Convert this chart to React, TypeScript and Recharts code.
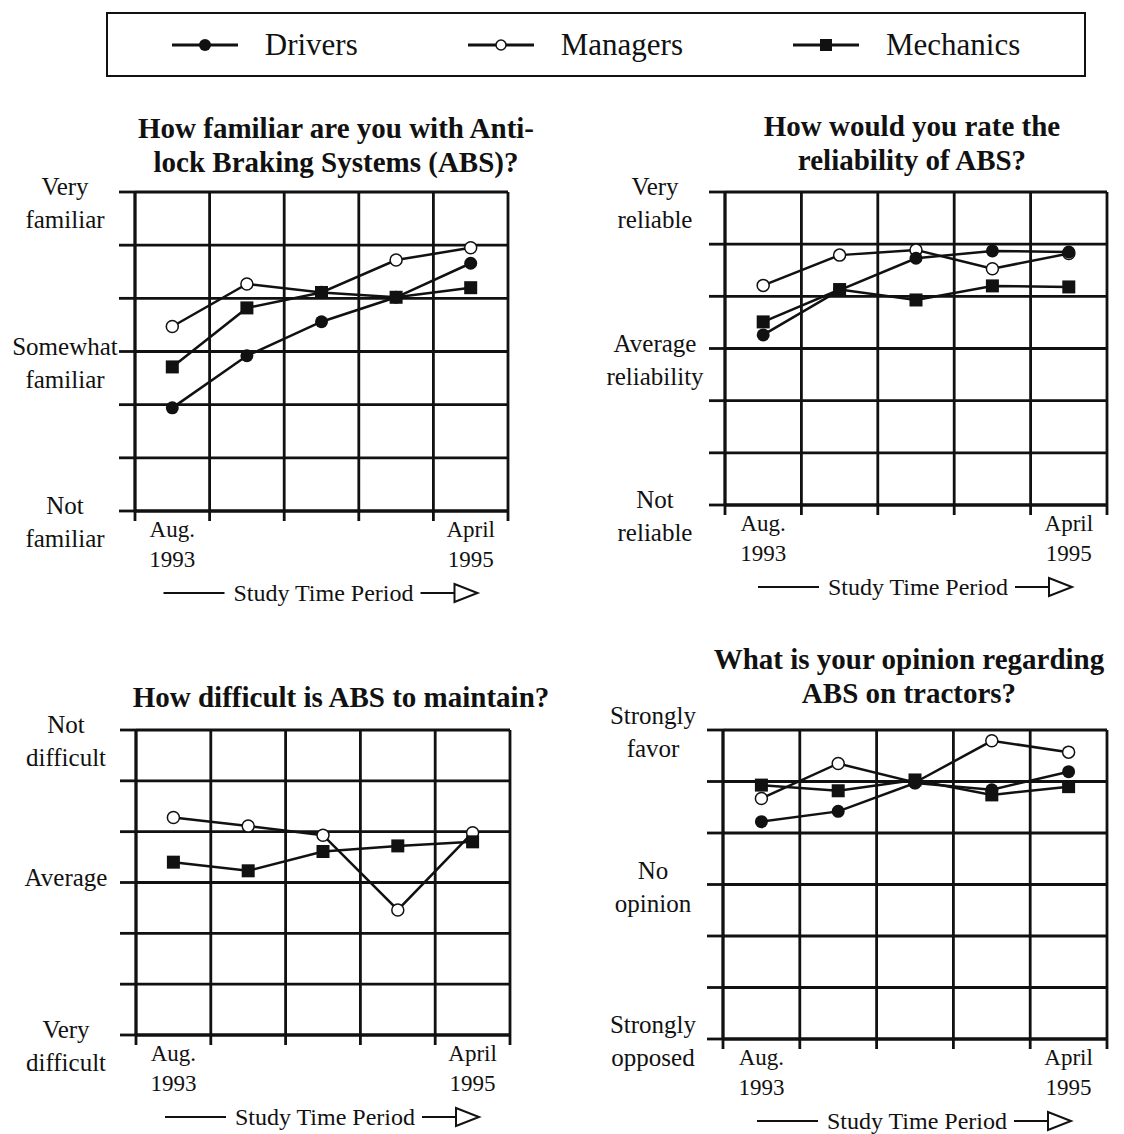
import { CartesianGrid, Line, LineChart, XAxis, YAxis } from 'recharts'

const FONT = '"Liberation Serif", "Times New Roman", serif'
const INK = '#111'

// survey rounds, Aug. 1993 .. April 1995
const PERIODS = ['Aug. 1993', 'Round 2', 'Round 3', 'Round 4', 'April 1995']
const PERIOD_LABELS = [
  ['Aug.', '1993'],
  ['April', '1995'],
]
const SERIES_NAMES = ['Drivers', 'Managers', 'Mechanics']

// scale: 0 = bottom answer, 3 = middle answer, 6 = top answer
const GRID_X = [0, 1, 2, 3, 4, 5]
const GRID_Y = [0, 1, 2, 3, 4, 5, 6]
const LABEL_TICKS = [0, 3, 6]

const FAMILIAR_TITLE = ['How familiar are you with Anti-', 'lock Braking Systems (ABS)?']
const FAMILIAR_LABELS = [['Not', 'familiar'], ['Somewhat', 'familiar'], ['Very', 'familiar']]
const FAMILIAR_DRIVERS = [1.94, 2.92, 3.56, 4.02, 4.66]
const FAMILIAR_MANAGERS = [3.47, 4.27, 4.11, 4.72, 4.95]
const FAMILIAR_MECHANICS = [2.71, 3.82, 4.11, 4.02, 4.2]

const RELIABILITY_TITLE = ['How would you rate the', 'reliability of ABS?']
const RELIABILITY_LABELS = [['Not', 'reliable'], ['Average', 'reliability'], ['Very', 'reliable']]
const RELIABILITY_DRIVERS = [3.26, 4.12, 4.73, 4.87, 4.85]
const RELIABILITY_MANAGERS = [4.21, 4.79, 4.89, 4.53, 4.82]
const RELIABILITY_MECHANICS = [3.51, 4.13, 3.93, 4.2, 4.18]

const MAINTAIN_TITLE = ['How difficult is ABS to maintain?']
const MAINTAIN_LABELS = [['Very', 'difficult'], ['Average'], ['Not', 'difficult']]
const MAINTAIN_MANAGERS = [4.28, 4.11, 3.93, 2.46, 3.98]
const MAINTAIN_MECHANICS = [3.4, 3.23, 3.61, 3.72, 3.8]

const OPINION_TITLE = ['What is your opinion regarding', 'ABS on tractors?']
const OPINION_LABELS = [['Strongly', 'opposed'], ['No', 'opinion'], ['Strongly', 'favor']]
const OPINION_DRIVERS = [4.22, 4.42, 4.97, 4.84, 5.19]
const OPINION_MANAGERS = [4.67, 5.35, 4.98, 5.79, 5.57]
const OPINION_MECHANICS = [4.93, 4.82, 5.03, 4.74, 4.9]

type TRow = { period: string; x: number; drivers?: number; managers: number; mechanics: number }

function buildRows(drivers: number[] | null, managers: number[], mechanics: number[]): TRow[] {
  return PERIODS.map((period, i) => ({
    period,
    x: i + 0.5,
    drivers: drivers ? drivers[i] : undefined,
    managers: managers[i],
    mechanics: mechanics[i],
  }))
}

const Y_AXIS_W = 130
const TOP_PAD = 40
const RIGHT_PAD = 10
const TICK_AXIS_H = 10
const PERIOD_AXIS_H = 62

type TPlot = { left: number; top: number; width: number; height: number }

function SquareDot(props: any) {
  const { cx, cy, index } = props
  if (cx == null || cy == null) return <g key={index} />
  return <rect key={index} x={cx - 6.5} y={cy - 6.5} width={13} height={13} fill={INK} />
}

function EmptyTick() {
  return <g />
}

function PeriodTick(props: any) {
  const { x, y, index } = props
  const lines = PERIOD_LABELS[index] ?? []
  return (
    <text x={x} textAnchor="middle" fontFamily={FONT} fontSize={23} fill={INK}>
      {lines.map((line, i) => (
        <tspan key={i} x={x} y={y + 16 + i * 30}>
          {line}
        </tspan>
      ))}
    </text>
  )
}

function AnswerTick(props: any) {
  const { x, y, payload, labels, shift } = props
  const idx = LABEL_TICKS.indexOf(payload.value)
  if (idx < 0) return <g />
  const lines: string[] = labels[idx]
  const cx = x - 52
  return (
    <text x={cx} textAnchor="middle" fontFamily={FONT} fontSize={25} fill={INK}>
      {lines.map((line, i) => (
        <tspan key={i} x={cx} y={y + shift + i * 33}>
          {line}
        </tspan>
      ))}
    </text>
  )
}

function Panel({
  plot,
  rows,
  labels,
  shift,
  showDrivers,
}: {
  plot: TPlot
  rows: TRow[]
  labels: string[][]
  shift: number
  showDrivers: boolean
}) {
  return (
    <div style={{ position: 'absolute', left: plot.left - Y_AXIS_W, top: plot.top - TOP_PAD }}>
      <LineChart
        width={Y_AXIS_W + plot.width + RIGHT_PAD}
        height={TOP_PAD + plot.height + TICK_AXIS_H + PERIOD_AXIS_H}
        data={rows}
        margin={{ top: TOP_PAD, right: RIGHT_PAD, bottom: 0, left: 0 }}
      >
        <CartesianGrid stroke={INK} strokeWidth={2.8} />
        <XAxis
          dataKey="x"
          type="number"
          domain={[0, 5]}
          ticks={GRID_X}
          interval={0}
          height={TICK_AXIS_H}
          tickSize={10}
          tick={EmptyTick}
          axisLine={{ stroke: INK, strokeWidth: 2.8 }}
          tickLine={{ stroke: INK, strokeWidth: 2.8 }}
        />
        <XAxis
          xAxisId="period"
          dataKey="x"
          type="number"
          domain={[0, 5]}
          ticks={[0.5, 4.5]}
          interval={0}
          height={PERIOD_AXIS_H}
          tickSize={0}
          tickMargin={0}
          axisLine={false}
          tickLine={false}
          tick={<PeriodTick />}
        />
        <YAxis
          type="number"
          domain={[0, 6]}
          ticks={GRID_Y}
          interval={0}
          width={Y_AXIS_W}
          tickSize={16}
          tick={<AnswerTick labels={labels} shift={shift} />}
          axisLine={{ stroke: INK, strokeWidth: 2.8 }}
          tickLine={{ stroke: INK, strokeWidth: 2.8 }}
        />
        <Line
          dataKey="managers"
          name={SERIES_NAMES[1]}
          stroke={INK}
          strokeWidth={2.5}
          dot={{ r: 6, fill: '#fff', stroke: INK, strokeWidth: 1.5 }}
          isAnimationActive={false}
        />
        {showDrivers && (
          <Line
            dataKey="drivers"
            name={SERIES_NAMES[0]}
            stroke={INK}
            strokeWidth={2.5}
            dot={{ r: 6.5, fill: INK, stroke: INK, strokeWidth: 0 }}
            isAnimationActive={false}
          />
        )}
        <Line
          dataKey="mechanics"
          name={SERIES_NAMES[2]}
          stroke={INK}
          strokeWidth={2.5}
          dot={SquareDot}
          isAnimationActive={false}
        />
      </LineChart>
    </div>
  )
}

function Title({ lines, cx, top }: { lines: string[]; cx: number; top: number }) {
  return (
    <div
      style={{
        position: 'absolute',
        left: cx - 300,
        top,
        width: 600,
        textAlign: 'center',
        fontFamily: FONT,
        fontWeight: 'bold',
        fontSize: 29,
        lineHeight: '34px',
        color: INK,
      }}
    >
      {lines.map((line) => (
        <div key={line}>{line}</div>
      ))}
    </div>
  )
}

function StudyPeriod({ cx, cy }: { cx: number; cy: number }) {
  return (
    <g stroke={INK} strokeWidth={2}>
      <line x1={cx - 160} y1={cy} x2={cx - 99} y2={cy} />
      <text x={cx} y={cy + 8} textAnchor="middle" fontFamily={FONT} fontSize={24} fill={INK} stroke="none">
        Study Time Period
      </text>
      <line x1={cx + 97} y1={cy} x2={cx + 131} y2={cy} />
      <polygon points={`${cx + 131},${cy - 9} ${cx + 131},${cy + 9} ${cx + 154},${cy}`} fill="#fff" />
    </g>
  )
}

function LegendIcon({ kind }: { kind: number }) {
  return (
    <svg width={66} height={20} style={{ marginRight: 27 }}>
      <line x1={0} y1={10} x2={66} y2={10} stroke={INK} strokeWidth={3} />
      {kind === 0 && <circle cx={33} cy={10} r={6} fill={INK} />}
      {kind === 1 && <circle cx={33} cy={10} r={5} fill="#fff" stroke={INK} strokeWidth={1.5} />}
      {kind === 2 && <rect x={27} y={4} width={12} height={12} fill={INK} />}
    </svg>
  )
}

const PLOTS: TPlot[] = [
  { left: 135, top: 192, width: 373, height: 319 },
  { left: 725, top: 192, width: 382, height: 313 },
  { left: 136, top: 730, width: 374, height: 305 },
  { left: 723, top: 730, width: 384, height: 309 },
]

export default function App() {
  return (
    <div
      style={{
        position: 'absolute',
        left: 0,
        top: 0,
        width: 1124,
        height: 1134,
        background: '#fff',
        overflow: 'hidden',
      }}
    >
      <div
        style={{
          position: 'absolute',
          left: 106,
          top: 12,
          width: 980,
          height: 65,
          boxSizing: 'border-box',
          border: `2.5px solid ${INK}`,
          display: 'flex',
          justifyContent: 'center',
          alignItems: 'center',
          gap: 110,
          fontFamily: FONT,
          fontSize: 31,
          color: INK,
        }}
      >
        {SERIES_NAMES.map((name, i) => (
          <div key={name} style={{ display: 'flex', alignItems: 'center' }}>
            <LegendIcon kind={i} />
            <span>{name}</span>
          </div>
        ))}
      </div>

      <Title lines={FAMILIAR_TITLE} cx={336} top={111} />
      <Title lines={RELIABILITY_TITLE} cx={912} top={109} />
      <Title lines={MAINTAIN_TITLE} cx={341} top={680} />
      <Title lines={OPINION_TITLE} cx={909} top={642} />

      <Panel
        plot={PLOTS[0]}
        rows={buildRows(FAMILIAR_DRIVERS, FAMILIAR_MANAGERS, FAMILIAR_MECHANICS)}
        labels={FAMILIAR_LABELS}
        shift={3}
        showDrivers
      />
      <Panel
        plot={PLOTS[1]}
        rows={buildRows(RELIABILITY_DRIVERS, RELIABILITY_MANAGERS, RELIABILITY_MECHANICS)}
        labels={RELIABILITY_LABELS}
        shift={3}
        showDrivers
      />
      <Panel
        plot={PLOTS[2]}
        rows={buildRows(null, MAINTAIN_MANAGERS, MAINTAIN_MECHANICS)}
        labels={MAINTAIN_LABELS}
        shift={3}
        showDrivers={false}
      />
      <Panel
        plot={PLOTS[3]}
        rows={buildRows(OPINION_DRIVERS, OPINION_MANAGERS, OPINION_MECHANICS)}
        labels={OPINION_LABELS}
        shift={-6}
        showDrivers
      />

      <svg width={1124} height={1134} style={{ position: 'absolute', left: 0, top: 0, pointerEvents: 'none' }}>
        {PLOTS.map((p, i) => (
          <StudyPeriod key={i} cx={p.left + p.width / 2 + 2} cy={p.top + p.height + 82} />
        ))}
      </svg>
    </div>
  )
}
